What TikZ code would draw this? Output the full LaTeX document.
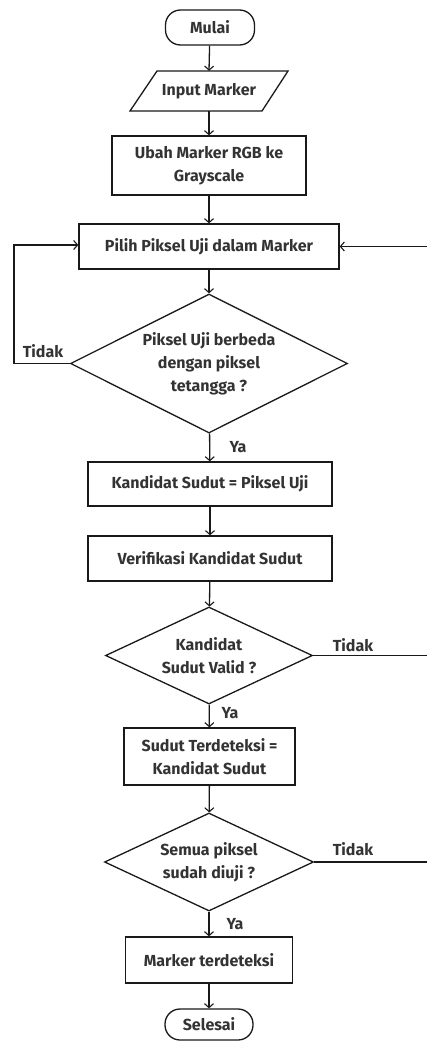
\documentclass[tikz,border=0pt]{standalone}
\usepackage{fontspec}
\setmainfont{Fira Sans}
\usetikzlibrary{arrows.meta,shapes.geometric}
\begin{document}
\begin{tikzpicture}[x=1pt,y=-1pt,
  every node/.style={font=\fontsize{16}{23}\selectfont\bfseries, text=black!80},
  line/.style={line width=1.3pt, draw=black!90},
  arr/.style={line, -{Straight Barb[length=4pt,width=9pt,line width=1.1pt]}},
  procbox/.style={line, rectangle, inner sep=0pt, align=center},
  term/.style={line, rectangle, rounded corners=15pt, inner sep=0pt},
  decision/.style={line, diamond, aspect=2, inner sep=0pt, align=center},
  lbl/.style={inner sep=0pt}]
\useasboundingbox (0,0) rectangle (426,1041);
\node[term, minimum width=89, minimum height=35] (start) at (210,27.5) {Mulai};
\node[inner sep=0pt, minimum width=104, minimum height=40] (in) at (209,91) {Input Marker};
\draw[line] (157,71) -- (288,71) -- (262,111) -- (130,111) -- cycle;
\node[procbox, minimum width=194, minimum height=59] (gray) at (209,165.5) {Ubah Marker RGB ke\\Grayscale};
\node[procbox, minimum width=260, minimum height=45] (pilih) at (209,246.5) {Pilih Piksel Uji dalam Marker};
\node[decision, minimum width=277, minimum height=139] (d1) at (209,363.5) {Piksel Uji berbeda\\dengan piksel\\tetangga ?};
\node[procbox, minimum width=244, minimum height=44] (kand) at (210,484) {Kandidat Sudut = Piksel Uji};
\node[procbox, minimum width=244, minimum height=45] (ver) at (210,558.5) {Verifikasi Kandidat Sudut};
\node[decision, minimum width=207, minimum height=97] (d2) at (209,655.5) {Kandidat\\Sudut Valid ?};
\node[procbox, minimum width=171, minimum height=57] (sudut) at (209.5,756.5) {Sudut Terdeteksi =\\Kandidat Sudut};
\node[decision, minimum width=209, minimum height=98] (d3) at (209,862) {Semua piksel\\sudah diuji ?};
\node[procbox, minimum width=167, minimum height=46] (mark) at (209,960) {Marker terdeteksi};
\node[term, minimum width=88, minimum height=31] (end) at (209,1024.5) {Selesai};

\coordinate (lp) at (14,245);
\coordinate (r1) at (427,246.5);
\coordinate (r2) at (427,655.5);
\coordinate (r3) at (427,862);

\draw[arr] (start) -- (in.north);
\draw[arr] (in.south) -- (gray);
\draw[arr] (gray) -- (pilih);
\draw[arr] (pilih) -- (d1);
\draw[arr] (d1) -- (kand);
\draw[arr] (kand) -- (ver);
\draw[arr] (ver) -- (d2);
\draw[arr] (d2) -- (sudut);
\draw[arr] (sudut) -- (d3);
\draw[arr] (d3) -- (mark);
\draw[arr] (mark) -- (end);
\draw[arr] (d1.west) -| (lp) -- (lp -| pilih.west);
\draw[arr] (r1) -- (pilih.east);
\draw[line] (d2.east) -- (r2);
\draw[line] (d3.east) -- (r3);

\node[lbl] (t1) at (43,351) {Tidak};
\node[lbl] (y1) at (238,447) {Ya};
\node[lbl] (t2) at (353,645) {Tidak};
\node[lbl] (y2) at (230,713) {Ya};
\node[lbl] (t3) at (353,849) {Tidak};
\node[lbl] (y3) at (235,924) {Ya};
\end{tikzpicture}
\end{document}
